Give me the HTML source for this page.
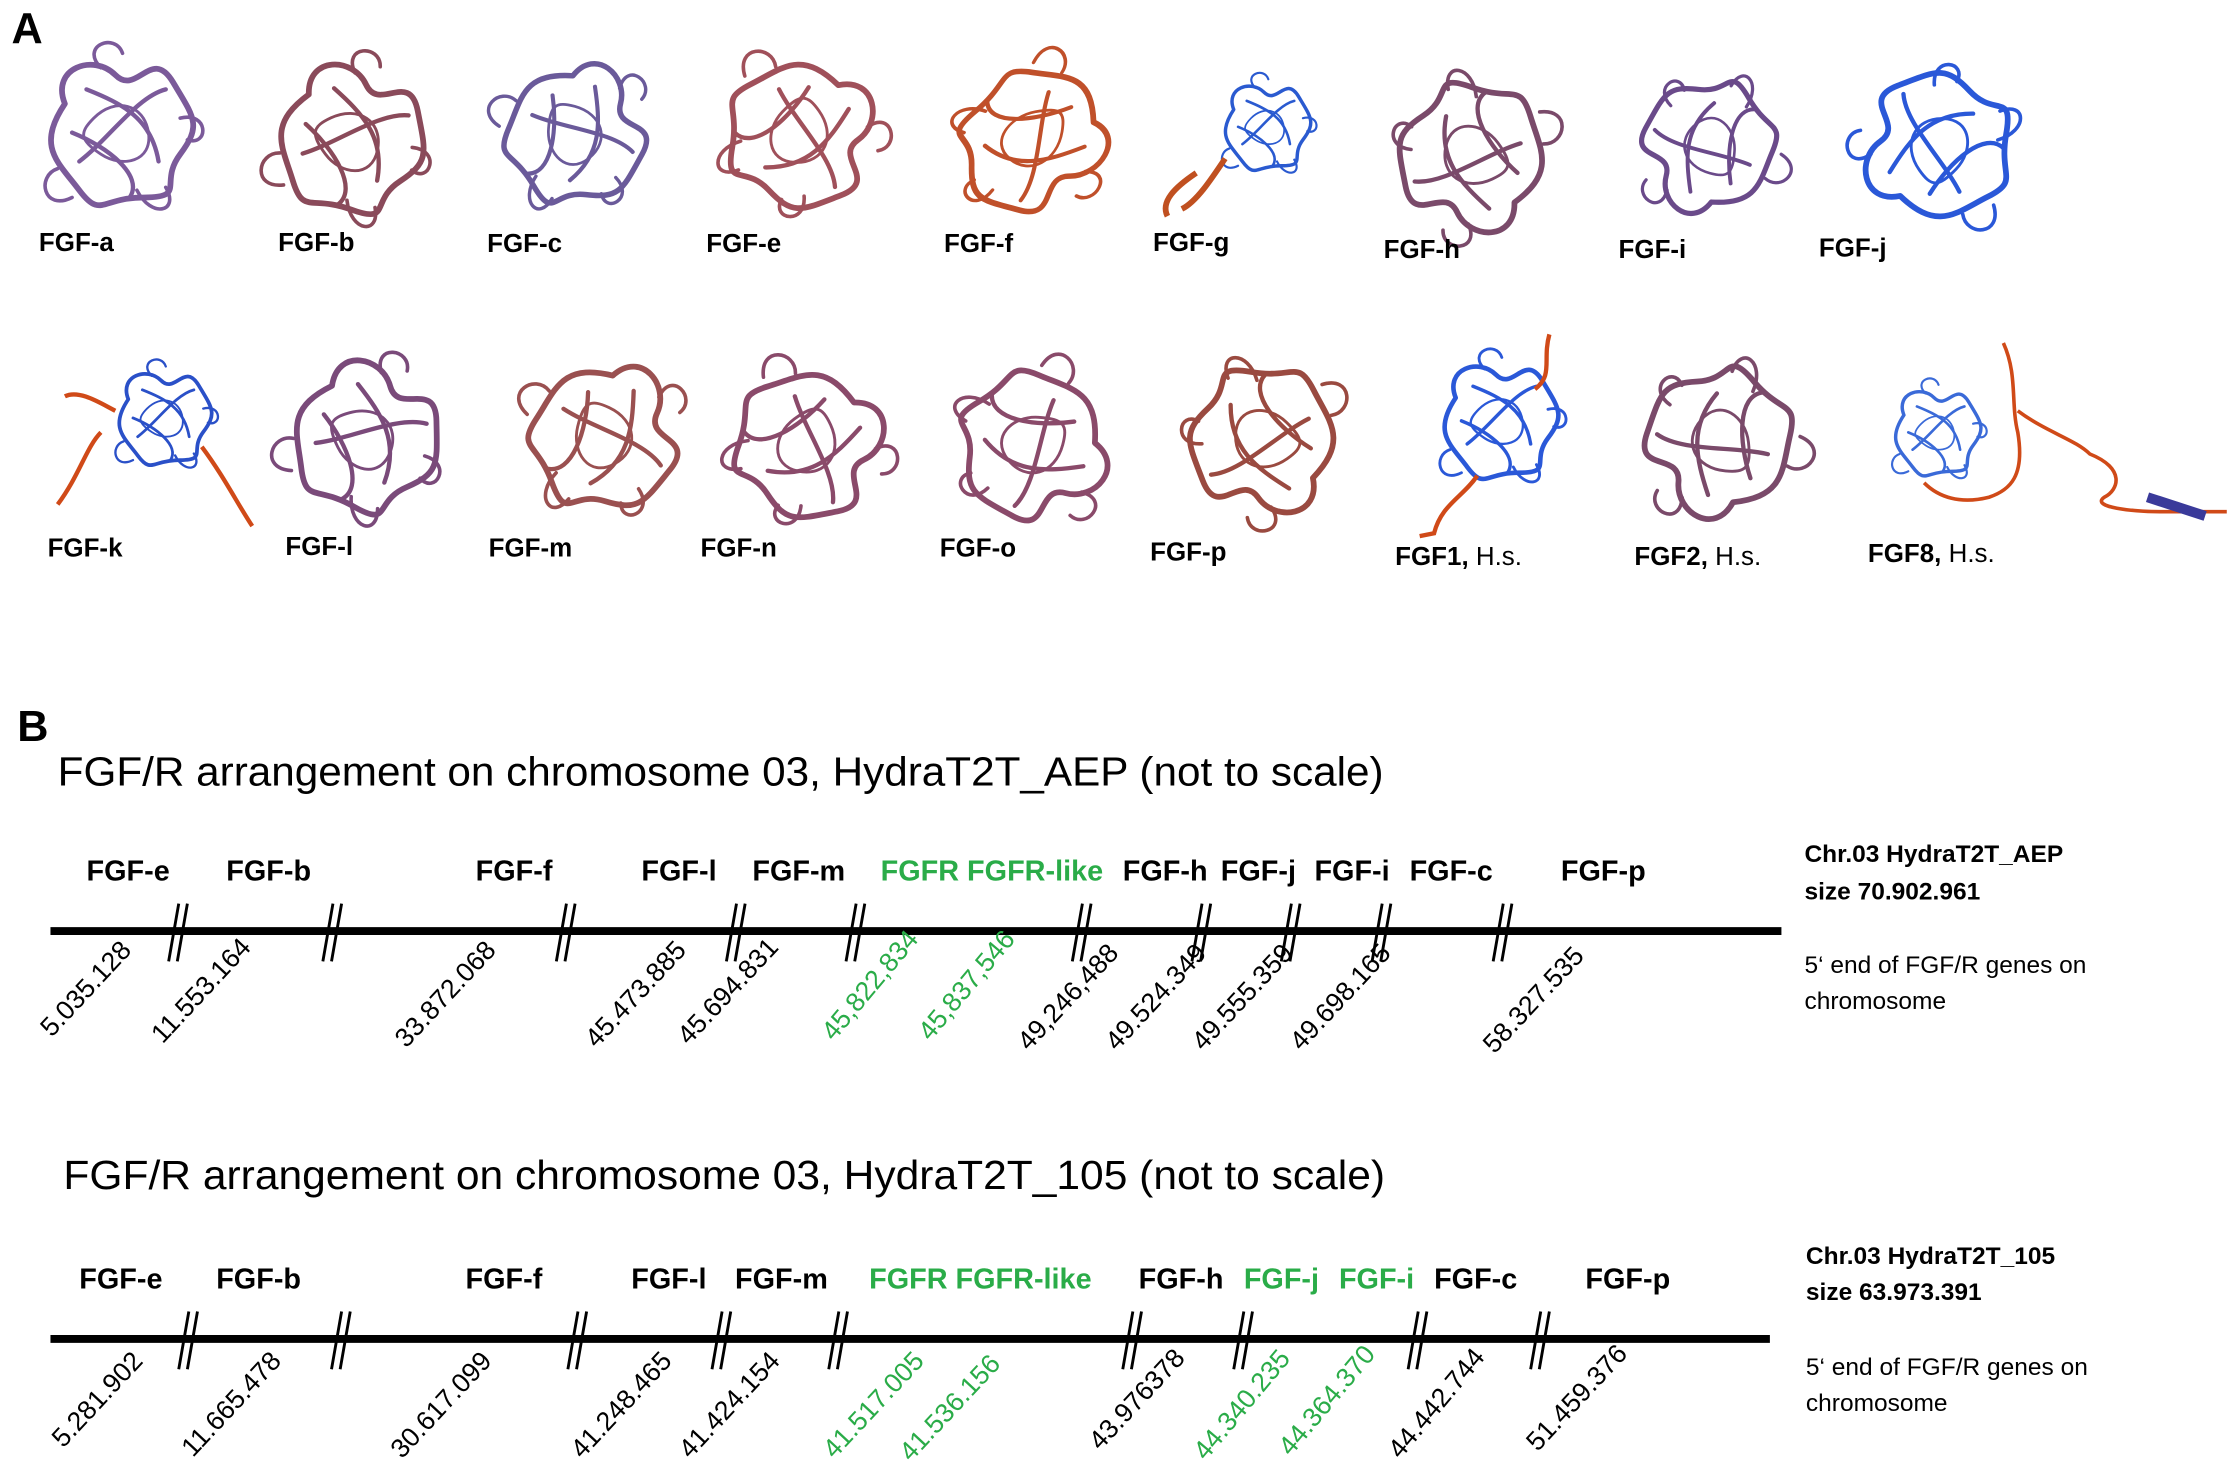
<!DOCTYPE html>
<html><head><meta charset="utf-8"><style>
html,body{margin:0;padding:0;background:#fff}
svg{display:block}
.t{font-family:"Liberation Sans",Arial,sans-serif}
.g{font-family:"Liberation Sans",Arial,sans-serif;font-weight:bold;font-size:20px}
.n{font-family:"Liberation Sans",Arial,sans-serif;font-size:18.5px}
.gr{fill:#2aac48}
</style></head><body>
<svg width="2234" height="1476" viewBox="0 0 1550 1024.1" xmlns="http://www.w3.org/2000/svg">
<defs>
<g id="prot" fill="none" stroke-linecap="round" stroke-linejoin="round">
<path d="M-40,-20 C-50,-45 -20,-55 -5,-40 S20,-60 35,-35 S55,-5 40,15 S45,45 15,45 S-15,60 -30,40 S-60,10 -40,-20Z" stroke-width="4"/>
<path d="M-25,-30 C0,-20 20,-10 25,20 M-30,20 C-10,5 10,-25 30,-30 M-35,0 C-10,10 15,30 5,45" stroke-width="3"/>
<path d="M-15,-45 C-30,-60 -5,-70 0,-55 M40,-10 C60,-15 60,10 45,5 M-45,25 C-60,30 -55,55 -35,45 M10,40 C20,60 40,55 30,38" stroke-width="2.5"/>
<path d="M-20,-10 C-5,-25 15,-20 18,0 S0,25 -15,15 S-30,0 -20,-10" stroke-width="2"/>
</g>
</defs>
<text x="8" y="30" class="t" font-size="30" font-weight="bold">A</text>
<text x="12" y="514" class="t" font-size="30" font-weight="bold">B</text>

<g>
<use href="#prot" transform="translate(85,92)" stroke="#7b5a9a"/>
<use href="#prot" transform="translate(245,98) rotate(20)" stroke="#8a4a5a"/>
<use href="#prot" transform="translate(400,95) rotate(60) scale(0.95)" stroke="#6a5a9a"/>
<use href="#prot" transform="translate(555,95) rotate(100)" stroke="#a0505a"/>
<use href="#prot" transform="translate(715,98) rotate(140) scale(1.05,0.9)" stroke="#c0502a"/>
<use href="#prot" transform="translate(880,88) scale(0.6)" stroke="#2a5ad0"/>
<path d="M830,120 C815,130 805,140 810,150 M850,110 C840,125 830,140 820,145" stroke="#c05020" stroke-width="4" fill="none"/>
<use href="#prot" transform="translate(1020,108) rotate(200)" stroke="#7a4a6a"/>
<use href="#prot" transform="translate(1185,100) rotate(240) scale(0.9)" stroke="#6a4a8a"/>
<use href="#prot" transform="translate(1345,100) rotate(280)" stroke="#2a58d8"/>

<use href="#prot" transform="translate(115,290) scale(0.65)" stroke="#2a50c8"/>
<path d="M40,350 C55,330 60,310 70,300 M140,310 C155,330 165,350 175,365 M45,275 C55,270 70,280 80,285" stroke="#d04a18" stroke-width="3" fill="none"/>
<use href="#prot" transform="translate(255,305) rotate(30)" stroke="#7a4a7a"/>
<use href="#prot" transform="translate(420,305) rotate(70)" stroke="#9a5050"/>
<use href="#prot" transform="translate(560,310) rotate(110)" stroke="#8a4a6a"/>
<use href="#prot" transform="translate(715,310) rotate(150)" stroke="#8a4a6a"/>
<use href="#prot" transform="translate(875,305) rotate(190)" stroke="#9a4a40"/>
<use href="#prot" transform="translate(1042,292) scale(0.8)" stroke="#2a58d8"/>
<path d="M1075,232 C1070,250 1078,260 1065,270 M1025,330 C1015,345 1000,350 995,370 L985,372" stroke="#d04a18" stroke-width="3" fill="none"/>
<use href="#prot" transform="translate(1192,305) rotate(230)" stroke="#7a4a6a"/>
<use href="#prot" transform="translate(1345,300) scale(0.6)" stroke="#3a6ad8"/>
<path d="M1390,238 C1400,260 1395,280 1400,300 C1405,330 1395,340 1380,345 C1360,350 1345,345 1335,335 M1400,285 C1420,300 1440,305 1450,315 C1475,325 1470,340 1460,345 C1450,352 1480,355 1500,355 L1545,355" stroke="#d04a18" stroke-width="2.5" fill="none"/>
<path d="M1490,345 L1530,358" stroke="#3a3a9a" stroke-width="7" fill="none"/>
</g>

<g class="t" font-weight="bold" font-size="18">
<text x="27" y="174">FGF-a</text><text x="193" y="174">FGF-b</text><text x="338" y="175">FGF-c</text>
<text x="490" y="175">FGF-e</text><text x="655" y="175">FGF-f</text><text x="800" y="174">FGF-g</text>
<text x="960" y="179">FGF-h</text><text x="1123" y="179">FGF-i</text><text x="1262" y="178">FGF-j</text>
<text x="33" y="386">FGF-k</text><text x="198" y="385">FGF-l</text><text x="339" y="386">FGF-m</text>
<text x="486" y="386">FGF-n</text><text x="652" y="386">FGF-o</text><text x="798" y="389">FGF-p</text>
<text x="968" y="392">FGF1, <tspan font-weight="normal">H.s.</tspan></text>
<text x="1134" y="392">FGF2, <tspan font-weight="normal">H.s.</tspan></text>
<text x="1296" y="390">FGF8, <tspan font-weight="normal">H.s.</tspan></text>
</g>

<!-- Chromosome 1 -->
<text x="40" y="545" class="t" font-size="28" textLength="920" lengthAdjust="spacingAndGlyphs">FGF/R arrangement on chromosome 03, HydraT2T_AEP (not to scale)</text>
<line x1="35" y1="646" x2="1236" y2="646" stroke="#000" stroke-width="5.5"/>
<g stroke="#000" stroke-width="2">
<path d="M124,627 L117,667 M130,627 L123,667"/><path d="M231,627 L224,667 M237,627 L230,667"/>
<path d="M393,627 L386,667 M399,627 L392,667"/><path d="M511,627 L504,667 M517,627 L510,667"/>
<path d="M594,627 L587,667 M600,627 L593,667"/><path d="M751,627 L744,667 M757,627 L750,667"/>
<path d="M834,627 L827,667 M840,627 L833,667"/><path d="M896,627 L889,667 M902,627 L895,667"/>
<path d="M959,627 L952,667 M965,627 L958,667"/><path d="M1043,627 L1036,667 M1049,627 L1042,667"/>
</g>
<g class="g">
<text x="60" y="611">FGF-e</text><text x="157" y="611">FGF-b</text><text x="330" y="611">FGF-f</text>
<text x="445" y="611">FGF-l</text><text x="522" y="611">FGF-m</text><text x="611" y="611" class="gr">FGFR FGFR-like</text>
<text x="779" y="611">FGF-h</text><text x="847" y="611">FGF-j</text><text x="912" y="611">FGF-i</text>
<text x="978" y="611">FGF-c</text><text x="1083" y="611">FGF-p</text>
</g>
<g class="n" text-anchor="end">
<text transform="translate(92,660) rotate(-47)">5.035.128</text>
<text transform="translate(175,658) rotate(-47)">11.553.164</text>
<text transform="translate(345,660) rotate(-47)">33.872.068</text>
<text transform="translate(477,660) rotate(-47)">45.473.885</text>
<text transform="translate(541,658) rotate(-47)">45.694.831</text>
<text transform="translate(638,652) rotate(-50)" class="gr">45,822,834</text>
<text transform="translate(705,652) rotate(-50)" class="gr">45,837,546</text>
<text transform="translate(777,662) rotate(-47)">49,246,488</text>
<text transform="translate(838,662) rotate(-47)">49.524.349</text>
<text transform="translate(898,662) rotate(-47)">49.555.359</text>
<text transform="translate(966,662) rotate(-47)">49.698.165</text>
<text transform="translate(1100,664) rotate(-47)">58.327.535</text>
</g>
<g class="t" font-size="17">
<text x="1252" y="598" font-weight="bold">Chr.03 HydraT2T_AEP</text>
<text x="1252" y="624" font-weight="bold">size 70.902.961</text>
<text x="1252" y="675">5‘ end of  FGF/R genes on</text>
<text x="1252" y="700">chromosome</text>
</g>

<!-- Chromosome 2 -->
<text x="44" y="825" class="t" font-size="28" textLength="917" lengthAdjust="spacingAndGlyphs">FGF/R arrangement on chromosome 03, HydraT2T_105 (not to scale)</text>
<line x1="35" y1="929" x2="1228" y2="929" stroke="#000" stroke-width="5.5"/>
<g stroke="#000" stroke-width="2">
<path d="M131,910 L124,950 M137,910 L130,950"/><path d="M237,910 L230,950 M243,910 L236,950"/>
<path d="M401,910 L394,950 M407,910 L400,950"/><path d="M501,910 L494,950 M507,910 L500,950"/>
<path d="M582,910 L575,950 M588,910 L581,950"/><path d="M786,910 L779,950 M792,910 L785,950"/>
<path d="M863,910 L856,950 M869,910 L862,950"/><path d="M984,910 L977,950 M990,910 L983,950"/>
<path d="M1069,910 L1062,950 M1075,910 L1068,950"/>
</g>
<g class="g">
<text x="55" y="894">FGF-e</text><text x="150" y="894">FGF-b</text><text x="323" y="894">FGF-f</text>
<text x="438" y="894">FGF-l</text><text x="510" y="894">FGF-m</text><text x="603" y="894" class="gr">FGFR FGFR-like</text>
<text x="790" y="894">FGF-h</text><text x="863" y="894" class="gr">FGF-j</text><text x="929" y="894" class="gr">FGF-i</text>
<text x="995" y="894">FGF-c</text><text x="1100" y="894">FGF-p</text>
</g>
<g class="n" text-anchor="end">
<text transform="translate(100,945) rotate(-47)">5.281.902</text>
<text transform="translate(196,945) rotate(-47)">11.665.478</text>
<text transform="translate(342,945) rotate(-47)">30.617.099</text>
<text transform="translate(467,945) rotate(-47)">41.248.465</text>
<text transform="translate(542,945) rotate(-47)">41.424.154</text>
<text transform="translate(642,945) rotate(-47)" class="gr">41.517.005</text>
<text transform="translate(695,947) rotate(-47)" class="gr">41.536.156</text>
<text transform="translate(823,943) rotate(-47)">43.976378</text>
<text transform="translate(896,943) rotate(-50)" class="gr">44.340.235</text>
<text transform="translate(955,940) rotate(-50)" class="gr">44.364.370</text>
<text transform="translate(1031,942) rotate(-50)">44.442.744</text>
<text transform="translate(1130,940) rotate(-47)">51.459.376</text>
</g>
<g class="t" font-size="17">
<text x="1253" y="877" font-weight="bold">Chr.03 HydraT2T_105</text>
<text x="1253" y="902" font-weight="bold">size 63.973.391</text>
<text x="1253" y="954">5‘ end of FGF/R genes on</text>
<text x="1253" y="979">chromosome</text>
</g>
</svg>
</body></html>
